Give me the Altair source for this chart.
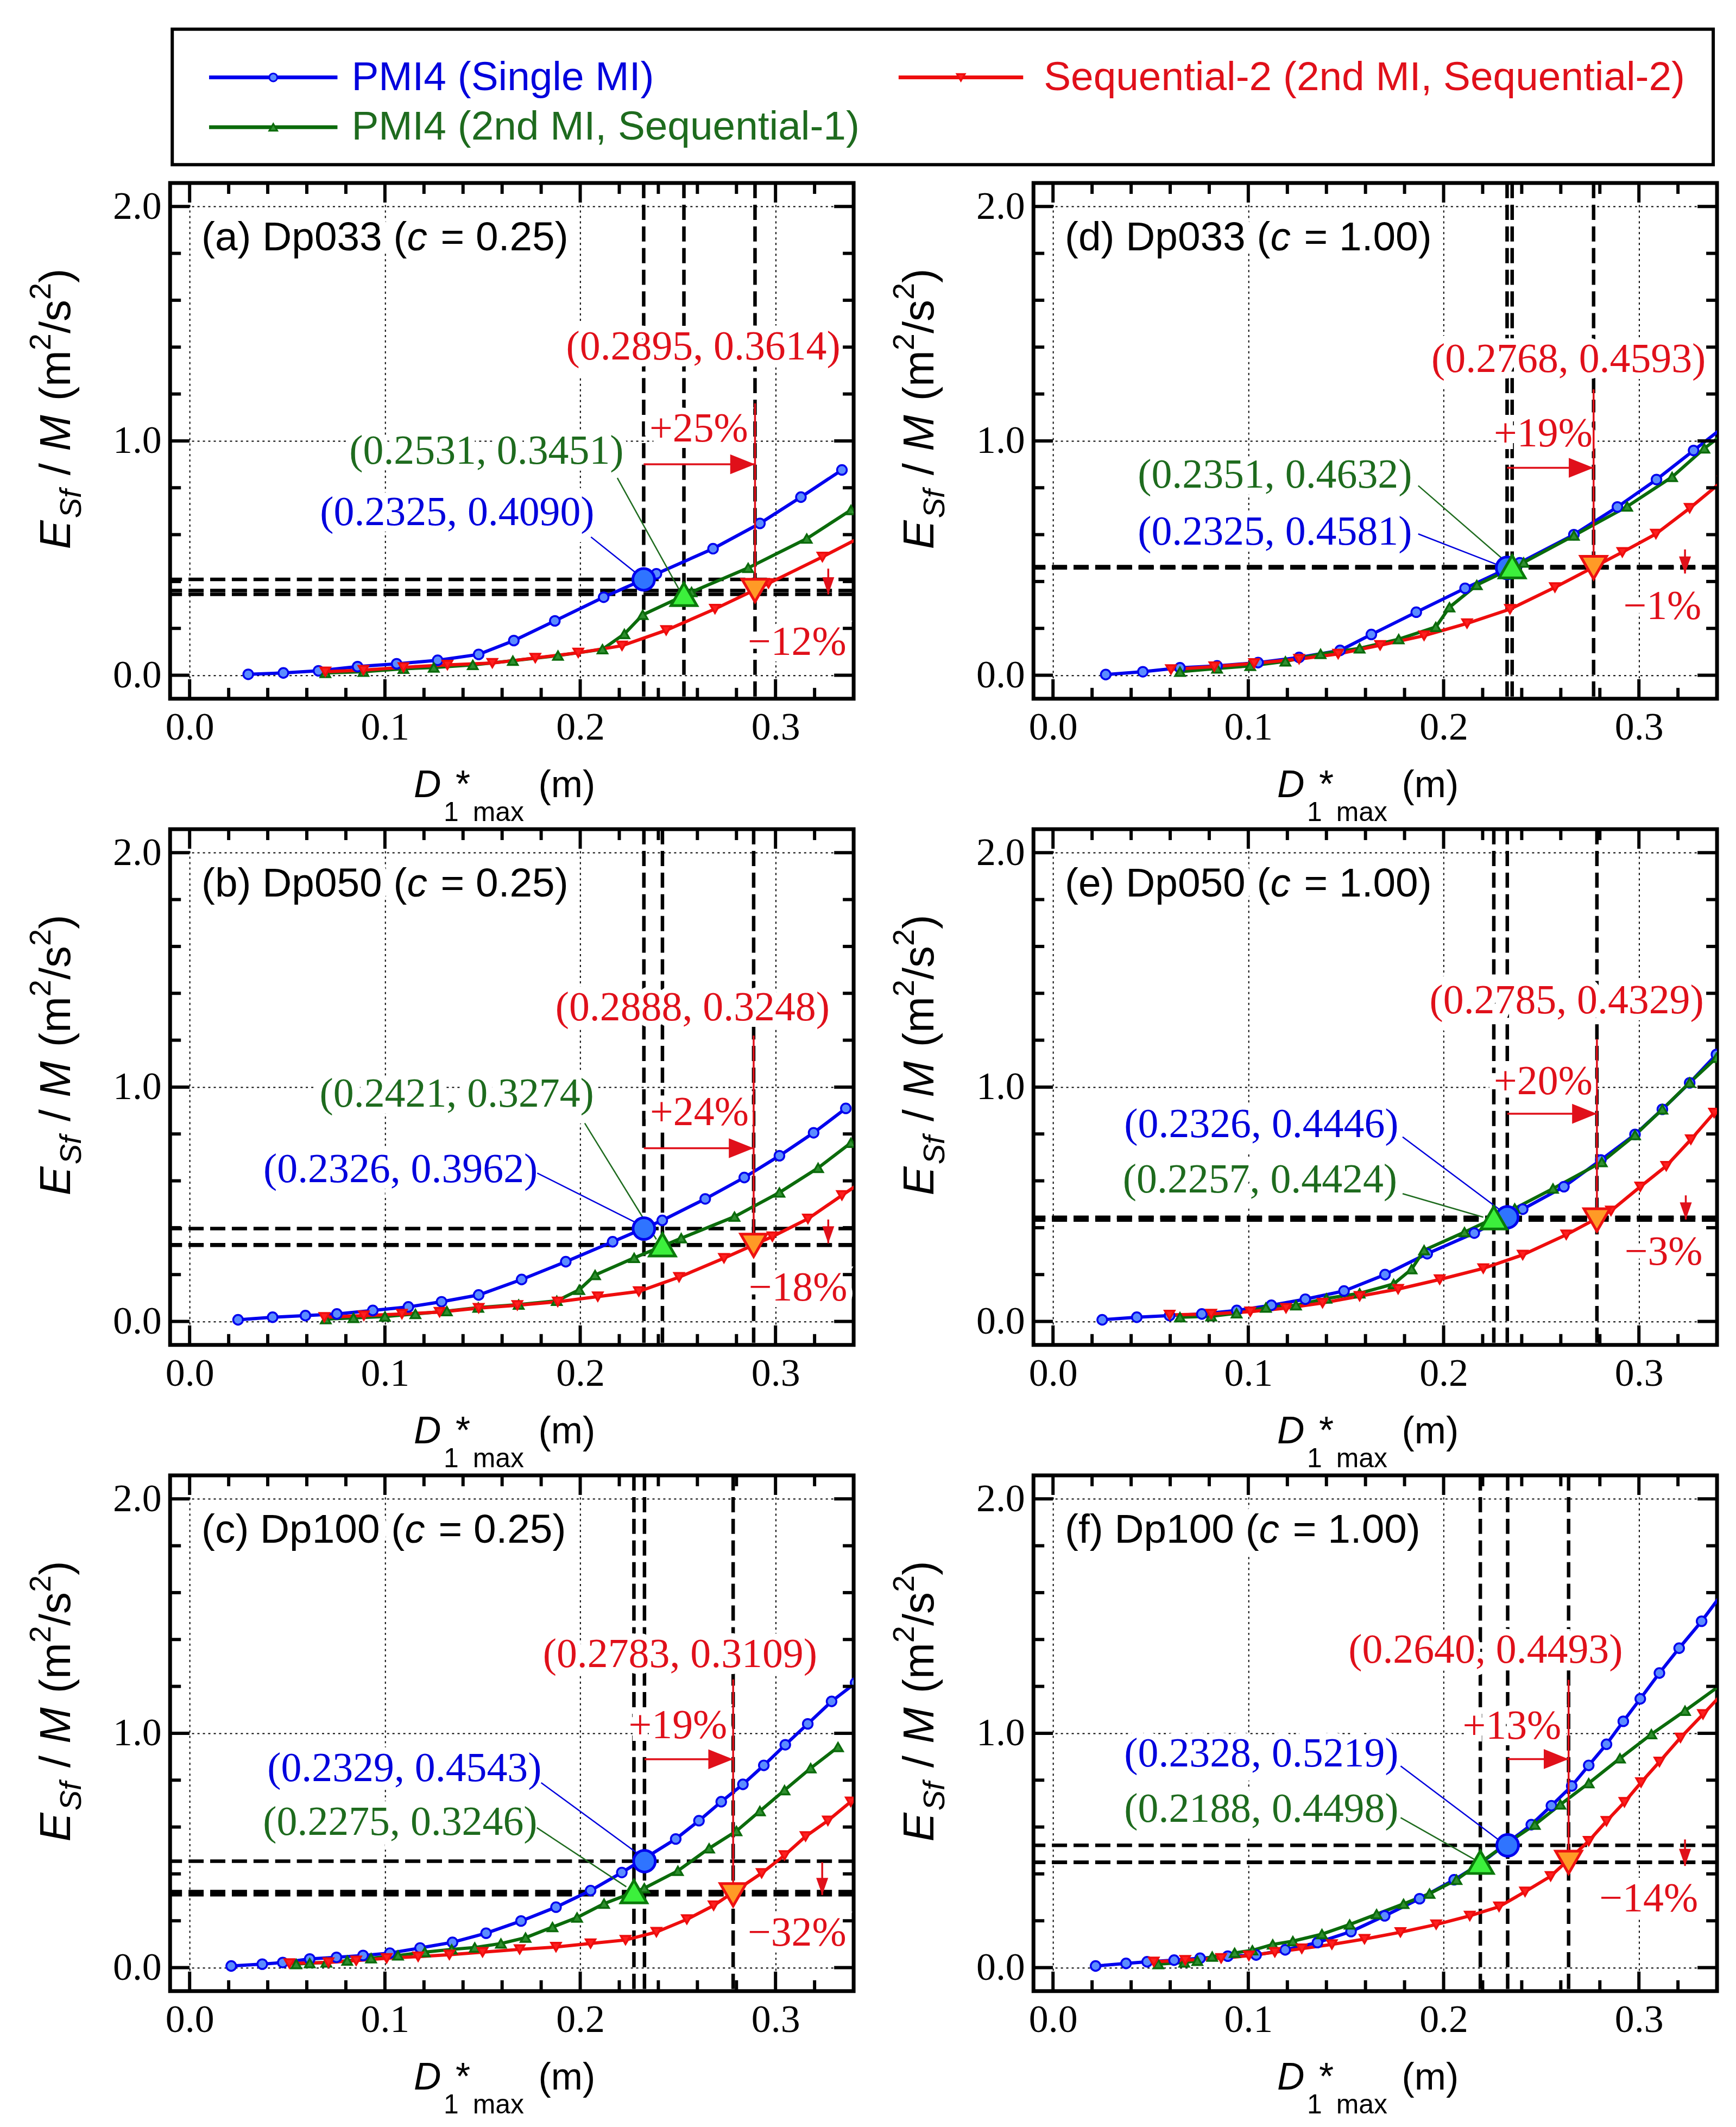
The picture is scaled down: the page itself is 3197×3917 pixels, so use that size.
import altair as alt
import pandas as pd

alt.data_transformers.disable_max_rows()

# series names and their colours
SERIES = ["PMI4 (Single MI)", "PMI4 (2nd MI, Sequential-1)",
          "Sequential-2 (2nd MI, Sequential-2)"]
LINE_COLORS = ["#0000ee", "#0b6b0b", "#ee0d0d"]
TEXT_COLORS = ["#0000dd", "#1e6b1e", "#e0101a"]
SMALL_FILL = ["#5b8cff", "#2f8f2f", "#ff1f1f"]
BIG_FILL = ["#2f74ff", "#3cf03c", "#ff9a26"]
BIG_STROKE = ["#0000ee", "#0a7a0a", "#ee1111"]
SHAPES = ["circle", "triangle-up", "triangle-down"]

# ---- (a) Dp033, c = 0.25
a_blue_x = [0.030, 0.048, 0.066, 0.086, 0.106, 0.127, 0.148, 0.166, 0.187, 0.212, 0.239, 0.268, 0.292, 0.313, 0.334]
a_blue_y = [0.004, 0.010, 0.019, 0.037, 0.049, 0.064, 0.089, 0.148, 0.232, 0.333, 0.433, 0.540, 0.648, 0.760, 0.876]
a_green_x = [0.0695, 0.089, 0.1095, 0.125, 0.145, 0.1655, 0.1886, 0.2114, 0.2226, 0.232, 0.257, 0.286, 0.316, 0.3386]
a_green_y = [0.010, 0.015, 0.028, 0.033, 0.044, 0.062, 0.084, 0.111, 0.176, 0.258, 0.355, 0.458, 0.583, 0.705]
a_red_x = [0.0695, 0.089, 0.1095, 0.132, 0.155, 0.177, 0.199, 0.2214, 0.244, 0.269, 0.2964, 0.324, 0.346]
a_red_y = [0.015, 0.022, 0.034, 0.044, 0.052, 0.074, 0.096, 0.126, 0.192, 0.283, 0.392, 0.505, 0.600]
a_key_x = [0.2325, 0.2531, 0.2895]
a_key_y = [0.4090, 0.3451, 0.3614]
a_change = ["+25%", "\u221212%"]

# ---- (b) Dp050, c = 0.25
b_blue_x = [0.0248, 0.0425, 0.0593, 0.0754, 0.0938, 0.112, 0.129, 0.148, 0.170, 0.1926, 0.2166, 0.242, 0.264, 0.284, 0.302, 0.3195, 0.336]
b_blue_y = [0.007, 0.018, 0.025, 0.032, 0.047, 0.062, 0.084, 0.113, 0.179, 0.255, 0.340, 0.431, 0.523, 0.614, 0.707, 0.805, 0.909]
b_green_x = [0.0697, 0.0839, 0.100, 0.1156, 0.1317, 0.1478, 0.1685, 0.188, 0.1995, 0.2076, 0.2276, 0.2517, 0.279, 0.302, 0.3218, 0.3386]
b_green_y = [0.010, 0.015, 0.021, 0.032, 0.044, 0.059, 0.072, 0.088, 0.135, 0.198, 0.271, 0.355, 0.447, 0.550, 0.655, 0.762]
b_red_x = [0.069, 0.0892, 0.1087, 0.128, 0.148, 0.1678, 0.1885, 0.209, 0.230, 0.2506, 0.2736, 0.2984, 0.3166, 0.334, 0.352]
b_red_y = [0.018, 0.025, 0.032, 0.040, 0.057, 0.069, 0.084, 0.106, 0.128, 0.189, 0.270, 0.362, 0.438, 0.538, 0.640]
b_key_x = [0.2326, 0.2421, 0.2888]
b_key_y = [0.3962, 0.3274, 0.3248]
b_change = ["+24%", "\u221218%"]

# ---- (c) Dp100, c = 0.25
c_blue_x = [0.0213, 0.0372, 0.0477, 0.0615, 0.0752, 0.0888, 0.1025, 0.118, 0.1346, 0.1518, 0.1697, 0.1876, 0.2053, 0.2213, 0.2489, 0.2608, 0.2722, 0.2833, 0.294, 0.305, 0.3165, 0.3287, 0.341]
c_blue_y = [0.007, 0.015, 0.022, 0.037, 0.044, 0.052, 0.062, 0.084, 0.108, 0.147, 0.199, 0.258, 0.329, 0.406, 0.549, 0.627, 0.708, 0.782, 0.863, 0.951, 1.040, 1.136, 1.215]
c_green_x = [0.0546, 0.0615, 0.070, 0.0807, 0.0929, 0.1067, 0.1204, 0.1342, 0.146, 0.1594, 0.172, 0.1858, 0.1984, 0.2122, 0.2328, 0.250, 0.266, 0.280, 0.292, 0.3046, 0.318, 0.332]
c_green_y = [0.015, 0.019, 0.022, 0.030, 0.040, 0.052, 0.066, 0.078, 0.086, 0.103, 0.128, 0.173, 0.214, 0.273, 0.339, 0.413, 0.509, 0.583, 0.668, 0.757, 0.851, 0.941]
c_red_x = [0.0511, 0.0711, 0.0853, 0.1009, 0.117, 0.133, 0.150, 0.169, 0.1876, 0.2053, 0.2232, 0.239, 0.2546, 0.2683, 0.2929, 0.3046, 0.3154, 0.3268, 0.3385]
c_red_y = [0.018, 0.022, 0.030, 0.040, 0.047, 0.055, 0.066, 0.078, 0.088, 0.103, 0.118, 0.152, 0.206, 0.265, 0.403, 0.479, 0.560, 0.627, 0.708]
c_key_x = [0.2329, 0.2275, 0.2783]
c_key_y = [0.4543, 0.3246, 0.3109]
c_change = ["+19%", "\u221232%"]

# ---- (d) Dp033, c = 1.00
d_blue_x = [0.027, 0.046, 0.065, 0.084, 0.105, 0.126, 0.147, 0.163, 0.186, 0.211, 0.239, 0.2667, 0.289, 0.309, 0.328, 0.348]
d_blue_y = [0.003, 0.015, 0.032, 0.040, 0.054, 0.076, 0.106, 0.174, 0.269, 0.371, 0.480, 0.600, 0.718, 0.835, 0.959, 1.090]
d_green_x = [0.065, 0.084, 0.101, 0.119, 0.137, 0.157, 0.177, 0.196, 0.203, 0.217, 0.241, 0.2667, 0.294, 0.317, 0.3335, 0.348]
d_green_y = [0.015, 0.029, 0.040, 0.059, 0.091, 0.115, 0.154, 0.206, 0.290, 0.385, 0.481, 0.596, 0.720, 0.846, 0.968, 1.060]
d_red_x = [0.0604, 0.0826, 0.103, 0.126, 0.146, 0.1675, 0.190, 0.212, 0.234, 0.257, 0.2915, 0.3087, 0.326, 0.343]
d_red_y = [0.025, 0.037, 0.051, 0.069, 0.091, 0.128, 0.169, 0.221, 0.282, 0.375, 0.525, 0.603, 0.713, 0.830]
d_key_x = [0.2325, 0.2351, 0.2768]
d_key_y = [0.4581, 0.4632, 0.4593]
d_change = ["+19%", "\u22121%"]

# ---- (e) Dp050, c = 1.00
e_blue_x = [0.0252, 0.0429, 0.0597, 0.0762, 0.0941, 0.1118, 0.1292, 0.149, 0.170, 0.1916, 0.2157, 0.2405, 0.2616, 0.2805, 0.298, 0.312, 0.326, 0.3397]
e_blue_y = [0.007, 0.018, 0.025, 0.032, 0.047, 0.069, 0.095, 0.130, 0.200, 0.289, 0.377, 0.479, 0.575, 0.689, 0.798, 0.905, 1.018, 1.139]
e_green_x = [0.065, 0.081, 0.094, 0.109, 0.1244, 0.140, 0.157, 0.1744, 0.1836, 0.190, 0.2107, 0.2364, 0.256, 0.281, 0.298, 0.312, 0.326, 0.3397]
e_green_y = [0.018, 0.022, 0.035, 0.059, 0.069, 0.098, 0.120, 0.160, 0.223, 0.304, 0.381, 0.482, 0.567, 0.680, 0.795, 0.905, 1.019, 1.125]
e_red_x = [0.0597, 0.081, 0.101, 0.1193, 0.138, 0.157, 0.1767, 0.198, 0.2203, 0.2405, 0.2628, 0.2857, 0.3007, 0.314, 0.3266, 0.3385]
e_red_y = [0.028, 0.032, 0.042, 0.057, 0.079, 0.108, 0.138, 0.179, 0.226, 0.284, 0.370, 0.472, 0.575, 0.663, 0.776, 0.890]
e_key_x = [0.2326, 0.2257, 0.2785]
e_key_y = [0.4446, 0.4424, 0.4329]
e_change = ["+20%", "\u22123%"]

# ---- (f) Dp100, c = 1.00
f_blue_x = [0.0218, 0.0374, 0.0482, 0.062, 0.0753, 0.0895, 0.104, 0.1189, 0.1354, 0.1526, 0.1698, 0.1877, 0.2054, 0.219, 0.2449, 0.2552, 0.2656, 0.2743, 0.2834, 0.292, 0.3007, 0.3105, 0.3206, 0.3321, 0.343]
f_blue_y = [0.007, 0.018, 0.025, 0.032, 0.040, 0.049, 0.054, 0.076, 0.107, 0.154, 0.221, 0.294, 0.375, 0.445, 0.610, 0.691, 0.775, 0.863, 0.953, 1.051, 1.147, 1.257, 1.363, 1.478, 1.600]
f_green_x = [0.0539, 0.0672, 0.0739, 0.0815, 0.093, 0.1021, 0.1125, 0.1228, 0.1377, 0.1519, 0.1657, 0.1795, 0.1928, 0.2066, 0.2325, 0.2467, 0.2598, 0.2743, 0.2903, 0.3064, 0.3236, 0.345]
f_green_y = [0.015, 0.022, 0.029, 0.047, 0.063, 0.074, 0.099, 0.113, 0.143, 0.184, 0.228, 0.272, 0.316, 0.375, 0.530, 0.610, 0.696, 0.787, 0.893, 0.996, 1.096, 1.225]
f_red_x = [0.0516, 0.0677, 0.0861, 0.1003, 0.1136, 0.1274, 0.1428, 0.1595, 0.1779, 0.1962, 0.2134, 0.2284, 0.2417, 0.2548, 0.2743, 0.2834, 0.2926, 0.3011, 0.3105, 0.3213, 0.3328, 0.344]
f_red_y = [0.025, 0.032, 0.040, 0.051, 0.066, 0.081, 0.099, 0.122, 0.151, 0.184, 0.221, 0.260, 0.324, 0.390, 0.540, 0.625, 0.706, 0.790, 0.878, 0.981, 1.081, 1.180]
f_key_x = [0.2328, 0.2188, 0.2640]
f_key_y = [0.5219, 0.4498, 0.4493]
f_change = ["+13%", "\u221214%"]

# where the annotations sit in each panel (data units)
LAYOUT = {
    "a": dict(lab=[(0.137, 0.694), (0.152, 0.956), (0.263, 1.40)],
              lead=[(0.2055, 0.59, 0.2286, 0.436), (0.219, 0.842, 0.251, 0.36)],
              arrow_y=0.90, vtop=1.16, down=(0.327, 0.455, 0.345), up=(0.2607, 1.05), dn=(0.311, 0.14)),
    "b": dict(lab=[(0.108, 0.648), (0.1368, 0.97), (0.2575, 1.337)],
              lead=[(0.178, 0.633, 0.2287, 0.421), (0.2023, 0.846, 0.239, 0.35)],
              arrow_y=0.739, vtop=1.22, down=(0.327, 0.435, 0.333), up=(0.261, 0.89), dn=(0.3115, 0.142)),
    "c": dict(lab=[(0.110, 0.848), (0.1078, 0.619), (0.2511, 1.335)],
              lead=[(0.18, 0.789, 0.2294, 0.487), (0.1778, 0.597, 0.2236, 0.345)],
              arrow_y=0.889, vtop=1.23, down=(0.3239, 0.45, 0.31), up=(0.25, 1.032), dn=(0.311, 0.147)),
    "d": dict(lab=[(0.1136, 0.61), (0.1136, 0.853), (0.264, 1.346)],
              lead=[(0.187, 0.603, 0.228, 0.47), (0.187, 0.809, 0.2318, 0.485)],
              arrow_y=0.885, vtop=1.22, down=(0.3236, 0.537, 0.434), up=(0.251, 1.03), dn=(0.312, 0.294)),
    "e": dict(lab=[(0.1067, 0.839), (0.106, 0.604), (0.263, 1.367)],
              lead=[(0.179, 0.787, 0.2295, 0.472), (0.179, 0.545, 0.2203, 0.445)],
              arrow_y=0.886, vtop=1.205, down=(0.324, 0.538, 0.435), up=(0.251, 1.022), dn=(0.3126, 0.296)),
    "f": dict(lab=[(0.1067, 0.912), (0.1067, 0.676), (0.2215, 1.353)],
              lead=[(0.178, 0.86, 0.2284, 0.544), (0.178, 0.64, 0.2157, 0.462)],
              arrow_y=0.89, vtop=1.228, down=(0.3236, 0.547, 0.434), up=(0.235, 1.029), dn=(0.305, 0.294)),
}

W, H = 1262, 952
XS = alt.Scale(domain=[-0.01, 0.34], nice=False, zero=False)
YS = alt.Scale(domain=[-0.1, 2.1], nice=False, zero=False)
SANS = "Liberation Sans"
SERIF = "Liberation Serif"
ANN = 76

X_MAJOR = [0.0, 0.1, 0.2, 0.3]
X_MINOR = [0.02, 0.04, 0.06, 0.08, 0.12, 0.14, 0.16, 0.18, 0.22, 0.24, 0.26, 0.28, 0.32]
Y_MAJOR = [0.0, 1.0, 2.0]
Y_MINOR = [0.2, 0.4, 0.6, 0.8, 1.2, 1.4, 1.6, 1.8]

ARROW_R = "M-2,-0.8L0,0L-2,0.8Z"
ARROW_D = "M-0.7,-2L0,0L0.7,-2Z"

ARIAL = {" ": .278, "(": .333, ")": .333, ".": .278, ",": .278, "=": .584, "/": .278,
         "*": .389, "-": .333, "c": .5, "f": .278, "m": .833, "s": .5, "x": .5,
         "D": .722, "E": .667, "M": .833, "S": .667}


def text_w(s, size):
    return sum(ARIAL.get(ch, 0.556) for ch in s) * size


X_AXIS = alt.Axis(values=X_MAJOR, format=".1f", grid=True, gridColor="black", gridDash=[4, 6],
                  gridWidth=2, gridOpacity=1, ticks=False, domain=False, labelFont=SERIF,
                  labelFontSize=72, labelColor="black", labelPadding=18, labelFlush=False,
                  labelOverlap=False, title=None)
Y_AXIS = alt.Axis(values=Y_MAJOR, format=".1f", grid=True, gridColor="black", gridDash=[4, 6],
                  gridWidth=2, gridOpacity=1, ticks=False, domain=False, labelFont=SERIF,
                  labelFontSize=72, labelColor="black", labelPadding=16, labelFlush=False,
                  labelOverlap=False, title=None)


def X(f):
    return alt.X(f, scale=XS, axis=X_AXIS)


def Y(f):
    return alt.Y(f, scale=YS, axis=Y_AXIS)


def px_text(df, **mk):
    return alt.Chart(df).mark_text(**mk).encode(
        x=alt.X("px:Q", scale=None), y=alt.Y("py:Q", scale=None), text="t:N",
        size=alt.Size("sz:Q", scale=None, legend=None))


def segments(parts, x0, y0, vertical=False):
    # lay text pieces end to end; spaces become gaps (svg drops edge blanks)
    rows, cum = [], 0.0
    for t, sz, it, sh in parts:
        lead = text_w(t[:len(t) - len(t.lstrip())], sz)
        pos = cum + lead
        if vertical:
            rows.append({"t": t.strip(), "px": x0 + sh, "py": y0 - pos, "sz": sz, "it": it})
        else:
            rows.append({"t": t.strip(), "px": x0 + pos, "py": y0 + sh, "sz": sz, "it": it})
        cum += text_w(t, sz) + (4 if it else 0)
    return pd.DataFrame(rows)


def frame_ticks():
    out = []
    for vals, ln in ((X_MAJOR, 36), (X_MINOR, 20)):
        base = alt.Chart(pd.DataFrame({"v": vals})).mark_rule(color="black", strokeWidth=6)
        out.append(base.encode(x=X("v:Q"), y=alt.value(H), y2=alt.value(H - ln)))
        out.append(base.encode(x=X("v:Q"), y=alt.value(0), y2=alt.value(ln)))
    for vals, ln in ((Y_MAJOR, 36), (Y_MINOR, 20)):
        base = alt.Chart(pd.DataFrame({"v": vals})).mark_rule(color="black", strokeWidth=6)
        out.append(base.encode(y=Y("v:Q"), x=alt.value(0), x2=alt.value(ln)))
        out.append(base.encode(y=Y("v:Q"), x=alt.value(W), x2=alt.value(W - ln)))
    return out


def title_layers(tag, name, cval):
    parts = [(f"({tag}) {name} (", 75, 0, 0), ("c", 75, 1, 0), (f" = {cval})", 75, 0, 0)]
    d = segments(parts, 58, 124)
    common = dict(font=SANS, align="left", baseline="alphabetic")
    halo = px_text(d, color="white", stroke="white", strokeWidth=30, **common)
    norm = px_text(d[d.it == 0], color="black", **common)
    ital = px_text(d[d.it == 1], color="black", fontStyle="italic", **common)
    return [halo, norm, ital]


def axis_titles():
    # x title: D*_{1 max} (m)
    xt = pd.DataFrame({"t": ["D", "1", "*", "max", "(m)"],
                       "px": [450, 505, 527, 559, 680],
                       "py": [H + 182, H + 226, H + 182, H + 226, H + 182],
                       "sz": [70, 50, 70, 50, 70], "it": [1, 0, 0, 0, 0]})
    # y title: E_Sf / M (m^2/s^2), rotated
    parts = [("E", 80, 1, 0), ("Sf", 56, 1, 20), (" / ", 80, 0, 0), ("M", 80, 1, 0),
             (" (m", 80, 0, 0), ("2", 56, 0, -36), ("/s", 80, 0, 0), ("2", 56, 0, -36), (")", 80, 0, 0)]
    yt = segments(parts, -185, 676, vertical=True)
    common = dict(font=SANS, color="black", align="left", baseline="alphabetic")
    return [px_text(xt[xt.it == 0], **common),
            px_text(xt[xt.it == 1], fontStyle="italic", **common),
            px_text(yt[yt.it == 0], angle=270, **common),
            px_text(yt[yt.it == 1], angle=270, fontStyle="italic", **common)]


def legend_layers():
    box = alt.Chart(pd.DataFrame({"k": [0]})).mark_rect(
        fillOpacity=0, stroke="black", strokeWidth=6).encode(
        x=alt.value(4), x2=alt.value(2849), y=alt.value(-284), y2=alt.value(-34))
    ld = pd.DataFrame({"s": SERIES, "c": LINE_COLORS, "tc": TEXT_COLORS,
                       "x1": [72, 72, 1345], "x2": [309, 309, 1575], "yy": [-195, -103, -195],
                       "tx": [335, 335, 1613]})
    ld["xm"] = (ld.x1 + ld.x2) / 2
    lines = alt.Chart(ld).mark_rule(strokeWidth=7).encode(
        x=alt.X("x1:Q", scale=None), x2="x2:Q", y=alt.Y("yy:Q", scale=None),
        color=alt.Color("c:N", scale=None))
    out = [box, lines]
    for i in range(3):
        out.append(alt.Chart(ld.iloc[[i]]).mark_point(
            shape=SHAPES[i], size=220, filled=True, fill=SMALL_FILL[i], stroke=LINE_COLORS[i],
            strokeWidth=3, opacity=1).encode(
            x=alt.X("xm:Q", scale=None), y=alt.Y("yy:Q", scale=None)))
    out.append(alt.Chart(ld).mark_text(font=SANS, fontSize=75, align="left", baseline="middle").encode(
        x=alt.X("tx:Q", scale=None), y=alt.Y("yy:Q", scale=None), text="s:N",
        color=alt.Color("tc:N", scale=None)))
    return out


def panel(tag, name, cval, curves, key_x, key_y, change, with_legend=False):
    lay = LAYOUT[tag]

    frames = []
    for i, (xs, ys) in enumerate(curves):
        frames.append(pd.DataFrame({"x": xs, "y": ys, "s": SERIES[i], "c": LINE_COLORS[i]}))
    curves_df = pd.concat(frames, ignore_index=True)

    key_df = pd.DataFrame({
        "x": key_x, "y": key_y, "c": TEXT_COLORS,
        "lab": [f"({x:.4f}, {y:.4f})" for x, y in zip(key_x, key_y)],
        "tx": [p[0] for p in lay["lab"]], "ty": [p[1] for p in lay["lab"]]})
    lead_df = pd.DataFrame({"x": [l[0] for l in lay["lead"]], "y": [l[1] for l in lay["lead"]],
                            "x2": [l[2] for l in lay["lead"]], "y2": [l[3] for l in lay["lead"]],
                            "c": TEXT_COLORS[:2]})
    pct_df = pd.DataFrame({"lab": change, "tx": [lay["up"][0], lay["dn"][0]],
                           "ty": [lay["up"][1], lay["dn"][1]]})
    arr_df = pd.DataFrame({"x1": [key_x[0]], "x2": [key_x[2]], "ay": [lay["arrow_y"]],
                           "vtop": [lay["vtop"]], "ry": [key_y[2]], "dx": [lay["down"][0]],
                           "dy1": [lay["down"][1]], "dy2": [lay["down"][2]]})

    dash = dict(color="black", strokeWidth=6.5, strokeDash=[28, 12])
    layers = [
        alt.Chart(key_df).mark_rule(**dash).encode(y=Y("y:Q")),
        alt.Chart(key_df).mark_rule(**dash).encode(x=X("x:Q")),
    ]
    layers += title_layers(tag, name, cval)
    txt = dict(font=SERIF, fontSize=ANN, align="center", baseline="middle")
    layers += [
        alt.Chart(key_df).mark_text(color="white", stroke="white", strokeWidth=24, **txt).encode(
            x=X("tx:Q"), y=Y("ty:Q"), text="lab:N"),
        alt.Chart(pct_df).mark_text(color="white", stroke="white", strokeWidth=24, **txt).encode(
            x=X("tx:Q"), y=Y("ty:Q"), text="lab:N"),
        alt.Chart(key_df).mark_text(**txt).encode(
            x=X("tx:Q"), y=Y("ty:Q"), text="lab:N", color=alt.Color("c:N", scale=None)),
        alt.Chart(pct_df).mark_text(color=TEXT_COLORS[2], **txt).encode(
            x=X("tx:Q"), y=Y("ty:Q"), text="lab:N"),
        alt.Chart(curves_df).mark_line(strokeWidth=6, clip=True).encode(
            x=X("x:Q"), y=Y("y:Q"), color=alt.Color("c:N", scale=None), detail="s:N"),
    ]
    for i in range(3):
        layers.append(alt.Chart(frames[i]).mark_point(
            shape=SHAPES[i], size=320, filled=True, fill=SMALL_FILL[i], stroke=LINE_COLORS[i],
            strokeWidth=3.5, opacity=1, clip=True).encode(x=X("x:Q"), y=Y("y:Q")))
    red = TEXT_COLORS[2]
    layers += [
        alt.Chart(lead_df).mark_rule(strokeWidth=2.5).encode(
            x=X("x:Q"), y=Y("y:Q"), x2="x2:Q", y2="y2:Q", color=alt.Color("c:N", scale=None)),
        alt.Chart(arr_df).mark_rule(color=red, strokeWidth=3.5).encode(x=X("x1:Q"), x2="x2:Q", y=Y("ay:Q")),
        alt.Chart(arr_df).mark_point(shape=ARROW_R, size=2100, filled=True, color=red, opacity=1).encode(
            x=X("x2:Q"), y=Y("ay:Q")),
        alt.Chart(arr_df).mark_rule(color=red, strokeWidth=3.5).encode(x=X("x2:Q"), y=Y("vtop:Q"), y2="ry:Q"),
        alt.Chart(arr_df).mark_rule(color=red, strokeWidth=3.5).encode(x=X("dx:Q"), y=Y("dy1:Q"), y2="dy2:Q"),
        alt.Chart(arr_df).mark_point(shape=ARROW_D, size=1000, filled=True, color=red, opacity=1).encode(
            x=X("dx:Q"), y=Y("dy2:Q")),
    ]
    big_size = [1600, 2300, 2300]
    for i in range(3):
        layers.append(alt.Chart(key_df.iloc[[i]]).mark_point(
            shape=SHAPES[i], size=big_size[i], filled=True, fill=BIG_FILL[i], stroke=BIG_STROKE[i],
            strokeWidth=5, opacity=1).encode(x=X("x:Q"), y=Y("y:Q")))
    layers += frame_ticks()
    layers += axis_titles()
    if with_legend:
        layers += legend_layers()
    return alt.layer(*layers).properties(width=W, height=H)


pa = panel("a", "Dp033", "0.25", [(a_blue_x, a_blue_y), (a_green_x, a_green_y), (a_red_x, a_red_y)],
           a_key_x, a_key_y, a_change, with_legend=True)
pb = panel("b", "Dp050", "0.25", [(b_blue_x, b_blue_y), (b_green_x, b_green_y), (b_red_x, b_red_y)],
           b_key_x, b_key_y, b_change)
pc = panel("c", "Dp100", "0.25", [(c_blue_x, c_blue_y), (c_green_x, c_green_y), (c_red_x, c_red_y)],
           c_key_x, c_key_y, c_change)
pd_ = panel("d", "Dp033", "1.00", [(d_blue_x, d_blue_y), (d_green_x, d_green_y), (d_red_x, d_red_y)],
            d_key_x, d_key_y, d_change)
pe = panel("e", "Dp050", "1.00", [(e_blue_x, e_blue_y), (e_green_x, e_green_y), (e_red_x, e_red_y)],
           e_key_x, e_key_y, e_change)
pf = panel("f", "Dp100", "1.00", [(f_blue_x, f_blue_y), (f_green_x, f_green_y), (f_red_x, f_red_y)],
           f_key_x, f_key_y, f_change)

chart = alt.concat(pa, pd_, pb, pe, pc, pf, columns=2, spacing={"row": 241, "column": 332},
                   bounds="flush").properties(
    padding={"left": 36, "top": 34, "right": 20, "bottom": 12}
).configure_view(stroke="black", strokeWidth=7)

chart.save("out.html", embed_options={"renderer": "svg", "actions": False})
